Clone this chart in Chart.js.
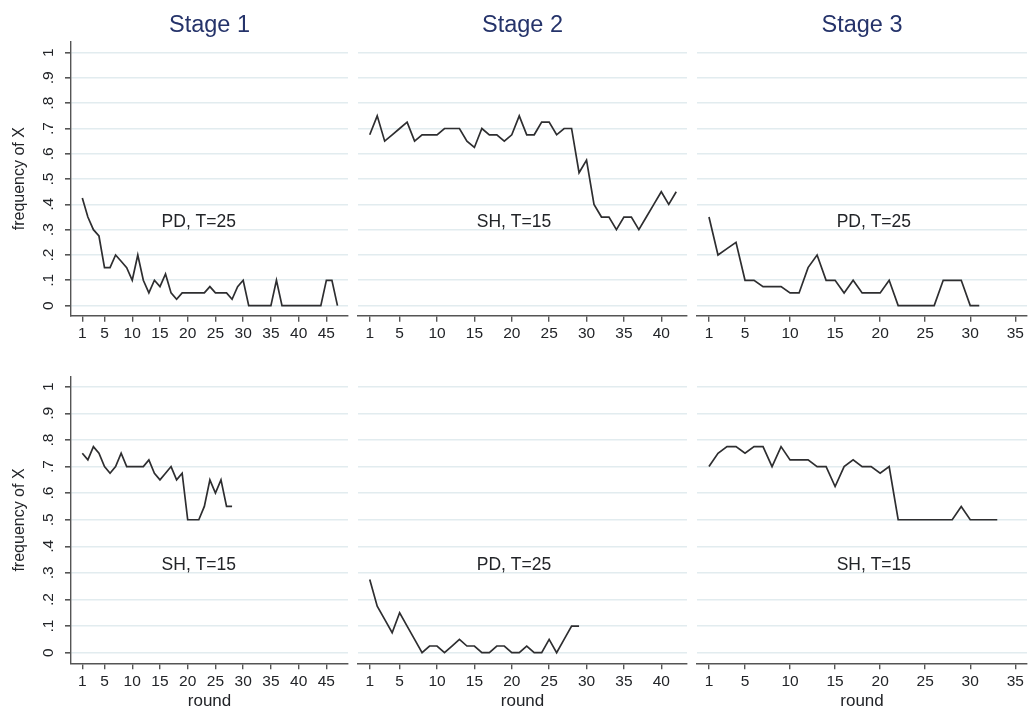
<!DOCTYPE html>
<html>
<head>
<meta charset="utf-8">
<title>frequency of X by round</title>
<script src="https://cdn.jsdelivr.net/npm/chart.js@4.4.1/dist/chart.umd.min.js"></script>
<style>
  html, body { margin: 0; padding: 0; background: #ffffff; }
  #wrap { position: relative; width: 1031px; height: 709px; overflow: hidden; background: #ffffff; }
  #wrap canvas { position: absolute; }
</style>
</head>
<body>
<div id="wrap"></div>
<script>
// ---- data ---------------------------------------------------------------
const stageTitles = ['Stage 1', 'Stage 2', 'Stage 3'];

const yTickValues = [0, 0.1, 0.2, 0.3, 0.4, 0.5, 0.6, 0.7, 0.8, 0.9, 1];
const yTickLabels = ['0', '.1', '.2', '.3', '.4', '.5', '.6', '.7', '.8', '.9', '1'];

const xTicksStage1 = [1, 5, 10, 15, 20, 25, 30, 35, 40, 45];
const xTicksStage2 = [1, 5, 10, 15, 20, 25, 30, 35, 40];
const xTicksStage3 = [1, 5, 10, 15, 20, 25, 30, 35];

const treatmentsTop    = ['PD, T=25', 'SH, T=15', 'PD, T=25'];
const treatmentsBottom = ['SH, T=15', 'PD, T=25', 'SH, T=15'];

// frequency of X per round (round = position + 1)
const stage1Top = [0.425, 0.35, 0.3, 0.275, 0.15, 0.15, 0.2, 0.175, 0.15, 0.1,
                   0.2, 0.1, 0.05, 0.1, 0.075, 0.125, 0.05, 0.025, 0.05, 0.05,
                   0.05, 0.05, 0.05, 0.075, 0.05, 0.05, 0.05, 0.025, 0.075, 0.1,
                   0, 0, 0, 0, 0, 0.1, 0, 0, 0, 0,
                   0, 0, 0, 0, 0.1, 0.1, 0];
const stage2Top = [0.675, 0.75, 0.65, 0.675, 0.7, 0.725, 0.65, 0.675, 0.675, 0.675,
                   0.7, 0.7, 0.7, 0.65, 0.625, 0.7, 0.675, 0.675, 0.65, 0.675,
                   0.75, 0.675, 0.675, 0.725, 0.725, 0.675, 0.7, 0.7, 0.525, 0.575,
                   0.4, 0.35, 0.35, 0.3, 0.35, 0.35, 0.3, 0.35, 0.4, 0.45,
                   0.4, 0.45];
const stage3Top = [0.35, 0.2, 0.225, 0.25, 0.1, 0.1, 0.075, 0.075, 0.075, 0.05,
                   0.05, 0.15, 0.2, 0.1, 0.1, 0.05, 0.1, 0.05, 0.05, 0.05,
                   0.1, 0, 0, 0, 0, 0, 0.1, 0.1, 0.1, 0,
                   0];
const stage1Bottom = [0.75, 0.725, 0.775, 0.75, 0.7, 0.675, 0.7, 0.75, 0.7, 0.7,
                      0.7, 0.7, 0.725, 0.675, 0.65, 0.675, 0.7, 0.65, 0.675, 0.5,
                      0.5, 0.5, 0.55, 0.65, 0.6, 0.65, 0.55, 0.55];
const stage2Bottom = [0.275, 0.175, 0.125, 0.075, 0.15, 0.1, 0.05, 0, 0.025, 0.025,
                      0, 0.025, 0.05, 0.025, 0.025, 0, 0, 0.025, 0.025, 0,
                      0, 0.025, 0, 0, 0.05, 0, 0.05, 0.1, 0.1];
const stage3Bottom = [0.7, 0.75, 0.775, 0.775, 0.75, 0.775, 0.775, 0.7, 0.775, 0.725,
                      0.725, 0.725, 0.7, 0.7, 0.625, 0.7, 0.725, 0.7, 0.7, 0.675,
                      0.7, 0.5, 0.5, 0.5, 0.5, 0.5, 0.5, 0.5, 0.55, 0.5,
                      0.5, 0.5, 0.5];

// ---- layout -------------------------------------------------------------
const FONT = "'Liberation Sans', Arial, Helvetica, sans-serif";
const TEXT = '#222428';
const AXIS = '#555555';
const GRID = '#e2ecef';

const columns = [
  { left: 0,   width: 352, areaLeft: 71,  areaRight: 348,  xMin: -1.04, xMax: 48.9,  ticks: xTicksStage1, noteX: 22 },
  { left: 352, width: 340, areaLeft: 358, areaRight: 687,  xMin: -0.57, xMax: 43.44, ticks: xTicksStage2, noteX: 20.3 },
  { left: 692, width: 339, areaLeft: 697, areaRight: 1027, xMin: -0.33, xMax: 36.3,  ticks: xTicksStage3, noteX: 19.3 }
];
const rows = [
  { top: 0,   height: 350, areaTop: 41.7,  areaBottom: 315.7, yMin: -0.04, yMax: 1.043 },
  { top: 350, height: 359, areaTop: 376.7, areaBottom: 663.3, yMin: -0.04, yMax: 1.038 }
];

const panels = [
  { row: 0, col: 0, values: stage1Top,    note: treatmentsTop[0] },
  { row: 0, col: 1, values: stage2Top,    note: treatmentsTop[1] },
  { row: 0, col: 2, values: stage3Top,    note: treatmentsTop[2] },
  { row: 1, col: 0, values: stage1Bottom, note: treatmentsBottom[0] },
  { row: 1, col: 1, values: stage2Bottom, note: treatmentsBottom[1] },
  { row: 1, col: 2, values: stage3Bottom, note: treatmentsBottom[2] }
];

// Text that Chart.js does not place the way these panels need:
// stage headings, rotated y tick labels, axis titles and the treatment note.
const panelText = {
  id: 'panelText',
  afterDraw(chart, args, o) {
    const ctx = chart.ctx;
    const a = chart.chartArea;
    const xs = chart.scales.x, ys = chart.scales.y;
    ctx.save();
    ctx.fillStyle = TEXT;

    if (o.title) {
      ctx.font = '23.5px ' + FONT;
      ctx.fillStyle = '#25336a';
      ctx.textAlign = 'center';
      ctx.textBaseline = 'alphabetic';
      ctx.fillText(o.title, (a.left + a.right) / 2, 31.7);
      ctx.fillStyle = TEXT;
    }

    if (o.note) {
      ctx.font = '17.5px ' + FONT;
      ctx.textAlign = 'center';
      ctx.textBaseline = 'alphabetic';
      ctx.fillText(o.note, xs.getPixelForValue(o.noteX), ys.getPixelForValue(0.31));
    }

    if (o.yLabels) {
      ctx.font = '15.5px ' + FONT;
      ctx.textAlign = 'center';
      ctx.textBaseline = 'alphabetic';
      yTickValues.forEach((v, i) => {
        ctx.save();
        ctx.translate(52.5, ys.getPixelForValue(v));
        ctx.rotate(-Math.PI / 2);
        ctx.fillText(yTickLabels[i], 0, 0);
        ctx.restore();
      });
      ctx.save();
      ctx.font = '16px ' + FONT;
      ctx.translate(23.5, (a.top + a.bottom) / 2);
      ctx.rotate(-Math.PI / 2);
      ctx.fillText('frequency of X', 0, 0);
      ctx.restore();
    }

    if (o.xTitle) {
      ctx.font = '17px ' + FONT;
      ctx.textAlign = 'center';
      ctx.textBaseline = 'alphabetic';
      ctx.fillText(o.xTitle, (a.left + a.right) / 2, chart.height - 3);
    }
    ctx.restore();
  }
};

const wrap = document.getElementById('wrap');

panels.forEach(p => {
  const c = columns[p.col];
  const r = rows[p.row];
  const canvas = document.createElement('canvas');
  canvas.width = c.width;
  canvas.height = r.height;
  canvas.style.left = c.left + 'px';
  canvas.style.top = r.top + 'px';
  wrap.appendChild(canvas);

  const points = p.values.map((v, i) => ({ x: i + 1, y: v }));

  new Chart(canvas, {
    type: 'line',
    data: {
      datasets: [{
        data: points,
        borderColor: '#2e2e30',
        borderWidth: 1.7,
        pointRadius: 0,
        tension: 0,
        fill: false
      }]
    },
    options: {
      responsive: false,
      animation: false,
      devicePixelRatio: 1,
      layout: {
        padding: {
          left: 0,
          right: c.left + c.width - c.areaRight,
          top: r.areaTop - r.top,
          bottom: 0
        }
      },
      plugins: {
        legend: { display: false },
        tooltip: { enabled: false },
        panelText: {
          title: p.row === 0 ? stageTitles[p.col] : null,
          note: p.note,
          noteX: c.noteX,
          yLabels: p.col === 0,
          xTitle: p.row === 1 ? 'round' : null
        }
      },
      scales: {
        x: {
          type: 'linear',
          min: c.xMin,
          max: c.xMax,
          afterBuildTicks: s => { s.ticks = c.ticks.map(v => ({ value: v })); },
          afterFit: s => { s.height = r.top + r.height - r.areaBottom; },
          ticks: {
            autoSkip: false,
            maxRotation: 0,
            minRotation: 0,
            padding: 3,
            color: TEXT,
            font: { family: FONT, size: 15.5 },
            callback: v => String(v)
          },
          grid: {
            drawOnChartArea: false,
            drawTicks: true,
            tickLength: 6,
            tickColor: AXIS,
            lineWidth: 1.4
          },
          border: { display: true, color: AXIS, width: 1.4 }
        },
        y: {
          type: 'linear',
          min: r.yMin,
          max: r.yMax,
          afterBuildTicks: s => { s.ticks = yTickValues.map(v => ({ value: v })); },
          afterFit: s => { s.width = c.areaLeft - c.left; },
          ticks: { display: false },
          grid: {
            color: GRID,
            lineWidth: 1.6,
            drawTicks: p.col === 0,
            tickLength: 6,
            tickColor: AXIS
          },
          border: { display: p.col === 0, color: AXIS, width: 1.4 }
        }
      }
    },
    plugins: [panelText]
  });
});
</script>
</body>
</html>
